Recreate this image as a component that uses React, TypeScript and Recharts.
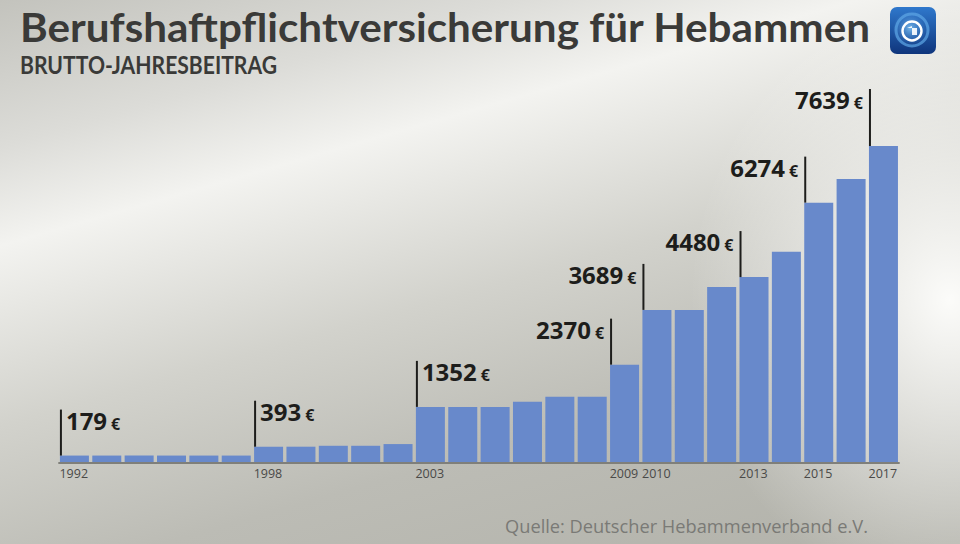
import React from "react";
import { BarChart, Bar, XAxis, YAxis, LabelList } from "recharts";

// Brutto-Jahresbeitrag der Berufshaftpflicht für Hebammen, in Euro
const YEARS = [
  "1992", "1993", "1994", "1995", "1996", "1997", "1998", "1999", "2000",
  "2001", "2002", "2003", "2004", "2005", "2006", "2007", "2008", "2009",
  "2010", "2011", "2012", "2013", "2014", "2015", "2016", "2017",
];
const PREMIUMS = [
  179, 179, 179, 179, 179, 179, 393, 393, 415,
  415, 456, 1352, 1352, 1352, 1476, 1598, 1598, 2370,
  3689, 3689, 4242, 4480, 5091, 6274, 6843, 7639,
];
// years that get a tick label and a value callout
const MARKED_YEARS = ["1992", "1998", "2003", "2009", "2010", "2013", "2015", "2017"];
// callouts from this year on sit left of their line
const LEFT_FROM = "2009";

const data = YEARS.map((year, i) => ({ year, value: PREMIUMS[i] }));

const FONT = "'Open Sans', 'Noto Sans', sans-serif";
const HEAD_FONT = "Lato, 'Open Sans', sans-serif";
const BAR_COLOR = "#6889cb";
const INK = "#1d1d1b";

const W = 960;
const H = 544;

function renderCallout(props: any) {
  const { x, y, value, index } = props;
  const year = YEARS[index];
  if (!MARKED_YEARS.includes(year)) return null;
  const lineX = x + 1;
  const lineLen = index === YEARS.length - 1 ? 57 : 46;
  const top = y - lineLen;
  const left = year >= LEFT_FROM;
  return (
    <g key={`c-${index}`}>
      <line x1={lineX} x2={lineX} y1={top} y2={y} stroke={INK} strokeWidth={2} />
      <text
        x={left ? lineX - 7 : lineX + 5}
        y={top + 20}
        textAnchor={left ? "end" : "start"}
        fill={INK}
        fontFamily={FONT}
        fontWeight={700}
      >
        <tspan fontSize={24}>{value}</tspan>
        <tspan fontSize={16} dx={4}>€</tspan>
      </text>
    </g>
  );
}

function YearTick(props: any) {
  const { x, y, payload } = props;
  if (!MARKED_YEARS.includes(payload.value)) return <g />;
  return (
    <text x={x - 15} y={y + 15} textAnchor="start" fill="#4a4a48" fontFamily={FONT} fontSize={12.5}>
      {payload.value}
    </text>
  );
}

function Logo() {
  return (
    <g>
      <defs>
        <linearGradient id="logoBg" x1="0" y1="0" x2="0" y2="1">
          <stop offset="0%" stopColor="#2f78cc" />
          <stop offset="100%" stopColor="#0f357c" />
        </linearGradient>
        <radialGradient id="logoGlow" cx="0.45" cy="0.45" r="0.5">
          <stop offset="0%" stopColor="#7fc0f0" stopOpacity={0.9} />
          <stop offset="100%" stopColor="#2a6cc0" stopOpacity={0} />
        </radialGradient>
      </defs>
      <rect x={890} y={7} width={46} height={47} rx={7} fill="url(#logoBg)" />
      <circle cx={912} cy={30} r={19} fill="url(#logoGlow)" />
      <circle cx={912} cy={30} r={16} fill="none" stroke="#5ea6e6" strokeWidth={3} opacity={0.7} />
      <circle cx={912} cy={31} r={9.5} fill="none" stroke="#ffffff" strokeWidth={2.4} />
      <path d="M907 28 L912 26 L912 35 L917 35 L917 28 Z" fill="#ffffff" opacity={0.9} />
    </g>
  );
}

export default function App() {
  return (
    <div
      style={{
        position: "absolute",
        left: 0,
        top: 0,
        width: W,
        height: H,
        overflow: "hidden",
        background:
          "radial-gradient(ellipse 260px 300px at 950px 300px, rgba(255,255,253,0.95) 0%, rgba(255,255,253,0) 100%)," +
          "linear-gradient(164deg, #c3c3bd 0%, #dcdcd8 18%, #f3f3f0 30%, #d2d2cc 52%, #bcbcb5 72%, #b2b2aa 100%)",
      }}
    >
      <BarChart
        width={W}
        height={H}
        data={data}
        margin={{ top: 131, right: 60.3, left: 58.3, bottom: 51 }}
        barCategoryGap="5%"
      >
        <XAxis
          dataKey="year"
          interval={0}
          height={30}
          tickLine={false}
          tickSize={0}
          tickMargin={0}
          axisLine={{ stroke: "#7f7f7a", strokeWidth: 2 }}
          tick={<YearTick />}
        />
        <YAxis hide domain={[0, 8000]} />
        <Bar dataKey="value" fill={BAR_COLOR} isAnimationActive={false}>
          <LabelList dataKey="value" content={renderCallout} />
        </Bar>
      </BarChart>
      <svg
        width={W}
        height={H}
        style={{ position: "absolute", left: 0, top: 0, pointerEvents: "none" }}
      >
        <text
          x={20}
          y={41.5}
          fontFamily={HEAD_FONT}
          fontWeight={700}
          fontSize={40}
          fill="#3a3a38"
          textLength={850}
          lengthAdjust="spacingAndGlyphs"
        >
          Berufshaftpflichtversicherung für Hebammen
        </text>
        <text
          x={20}
          y={74}
          fontFamily={HEAD_FONT}
          fontWeight={700}
          fontSize={24}
          fill="#3a3a38"
          textLength={257}
          lengthAdjust="spacingAndGlyphs"
        >
          BRUTTO-JAHRESBEITRAG
        </text>
        <text
          x={505}
          y={533}
          fontFamily={FONT}
          fontSize={18}
          fill="#7a7a76"
          textLength={363}
          lengthAdjust="spacingAndGlyphs"
        >
          Quelle: Deutscher Hebammenverband e.V.
        </text>
        <Logo />
      </svg>
    </div>
  );
}
